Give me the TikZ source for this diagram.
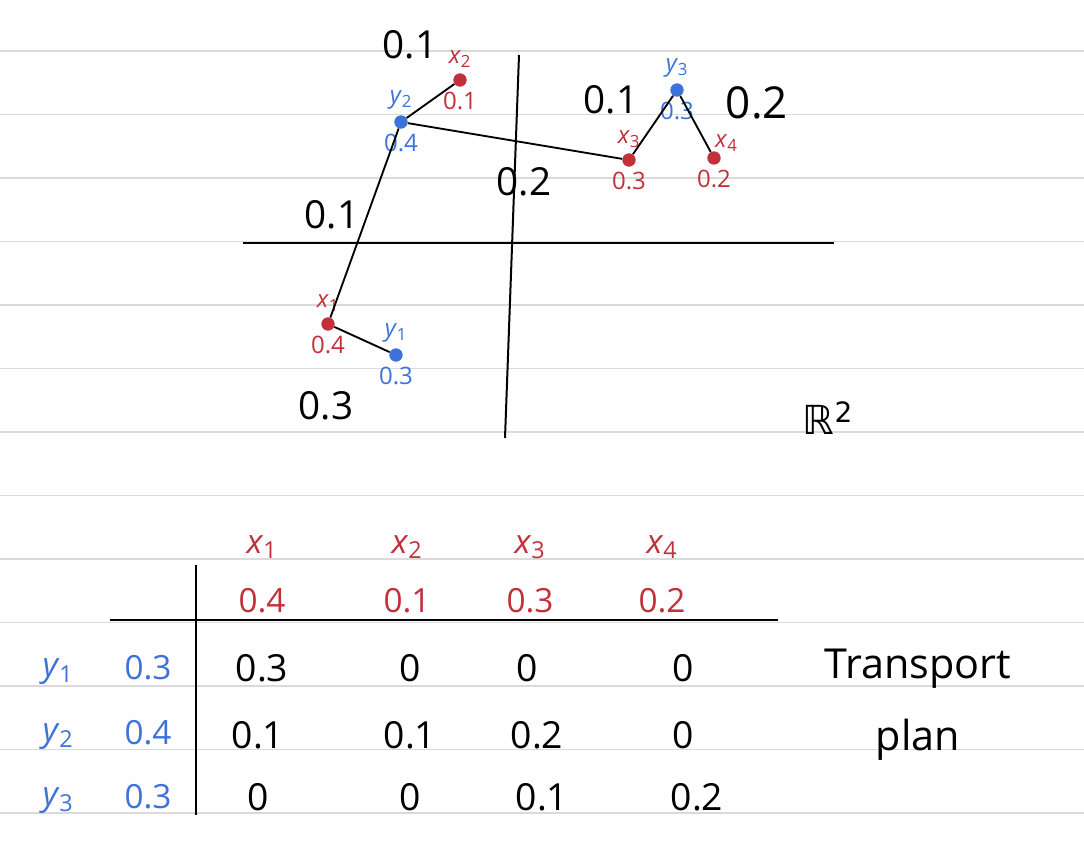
\documentclass[tikz,border=0pt]{standalone}
\usepackage{amssymb}
\usepackage{amsmath}
\usepackage{fontspec}
\setmainfont{Open Sans}
\newfontfamily\symfont{DejaVu Sans}
\usetikzlibrary{positioning}
\definecolor{xred}{HTML}{C2303A}
\definecolor{yblue}{HTML}{3D72DA}
\definecolor{ruled}{HTML}{DADADA}
\newcommand{\pv}[2]{\textit{#1}\textsubscript{#2}}
\tikzstyle{xpt} = [circle, fill=xred, inner sep=0pt, minimum size=10pt]
\tikzstyle{ypt} = [circle, fill=yblue, inner sep=0pt, minimum size=10pt]
\tikzstyle{xlab} = [text=xred, inner sep=1pt, font=\fontsize{18}{18}\selectfont]
\tikzstyle{ylab} = [text=yblue, inner sep=1pt, font=\fontsize{18}{18}\selectfont]
\tikzstyle{head} = [inner sep=1pt, font=\fontsize{25}{25}\selectfont]
\tikzstyle{cost} = [font=\fontsize{29}{29}\selectfont]
\tikzstyle{cell} = [font=\fontsize{28}{28}\selectfont]
\tikzstyle{edge} = [line width=1.4pt]
\tikzstyle{axis} = [line width=1.5pt]

\begin{document}
\begin{tikzpicture}[x=0.75pt, y=-0.75pt, node distance=3pt]
		\useasboundingbox [fill=white] (0,0) rectangle (1084,848);
		% ruled paper
		\foreach \i in {0,...,12}
			\draw [ruled, line width=1.2pt] (0,51+63.5*\i) -- (1084,51+63.5*\i);
		% the plane
		\draw [axis] (243,243) -- (834,243);
		\draw [axis] (519,55) -- (505,438);
		\node (R2) at (828,418) {\fontsize{30}{30}\selectfont\symfont ℝ\textsuperscript{2}};
		% points
		\node (x1) [xpt] at (328,324) {};
		\node (x2) [xpt] at (460,80) {};
		\node (x3) [xpt] at (629,160) {};
		\node (x4) [xpt] at (714,158) {};
		\node (y1) [ypt] at (396,355) {};
		\node (y2) [ypt] at (401,122) {};
		\node (y3) [ypt] at (677,90) {};
		\node [xlab, above=of x1] {\pv{x}{1}};
		\node [xlab, below=of x1] {0.4};
		\node [xlab, above=of x2] {\pv{x}{2}};
		\node [xlab, below=of x2] {0.1};
		\node [xlab, above=of x3] {\pv{x}{3}};
		\node [xlab, below=of x3] {0.3};
		\node [xlab, above right=0pt and -4pt of x4] {\pv{x}{4}};
		\node [xlab, below=of x4] {0.2};
		\node [ylab, above=of y1] {\pv{y}{1}};
		\node [ylab, below=of y1] {0.3};
		\node [ylab, above=of y2] {\pv{y}{2}};
		\node [ylab, below=of y2] {0.4};
		\node [ylab, above=of y3] {\pv{y}{3}};
		\node [ylab, below=of y3] {0.3};
		% couplings
		\draw [edge] (x1) -- (y1);
		\draw [edge] (x1) -- (y2);
		\draw [edge] (y2) -- (x2);
		\draw [edge] (y2) -- (x3);
		\draw [edge] (x3) -- (y3);
		\draw [edge] (y3) -- (x4);
		\node [cost] at (326,406) {0.3};
		\node [cost] at (332,215) {0.1};
		\node [cost] at (410,45) {0.1};
		\node [cost] at (524,182) {0.2};
		\node [cost] at (611,100) {0.1};
		\node [cost, font=\fontsize{33}{33}\selectfont] at (757,103) {0.2};
		% transport plan table
		\draw [axis] (196,565) -- (196,815);
		\draw [axis] (110,620) -- (778,620);
		\foreach \c/\x/\m in {1/262/0.4, 2/407/0.1, 3/530/0.3, 4/662/0.2} {
			\node (hx\c) [head, text=xred] at (\x,547) {\pv{x}{\c}};
			\node (hm\c) [head, text=xred] at (\x,601) {\m};
		}
		\foreach \r/\y/\m in {1/668/0.3, 2/733/0.4, 3/797/0.3} {
			\node (ry\r) [head, text=yblue] at (58,\y+4) {\pv{y}{\r}};
			\node (rm\r) [head, text=yblue] at (148,\y) {\m};
		}
		\foreach \v [count=\k] in {0.3,0,0,0} \node [cell] at ({262+(\k==2)*148+(\k==3)*265+(\k==4)*421},668) {\v};
		\foreach \v [count=\k] in {0.1,0.1,0.2,0} \node [cell] at ({258+(\k==2)*152+(\k==3)*279+(\k==4)*425},735) {\v};
		\foreach \v [count=\k] in {0,0,0.1,0.2} \node [cell] at ({258+(\k==2)*152+(\k==3)*284+(\k==4)*439},797) {\v};
		\node (plan) [align=center, font=\fontsize{31}{54}\selectfont] at (918,705) {Transport\\plan};
		\end{tikzpicture}
\end{document}
